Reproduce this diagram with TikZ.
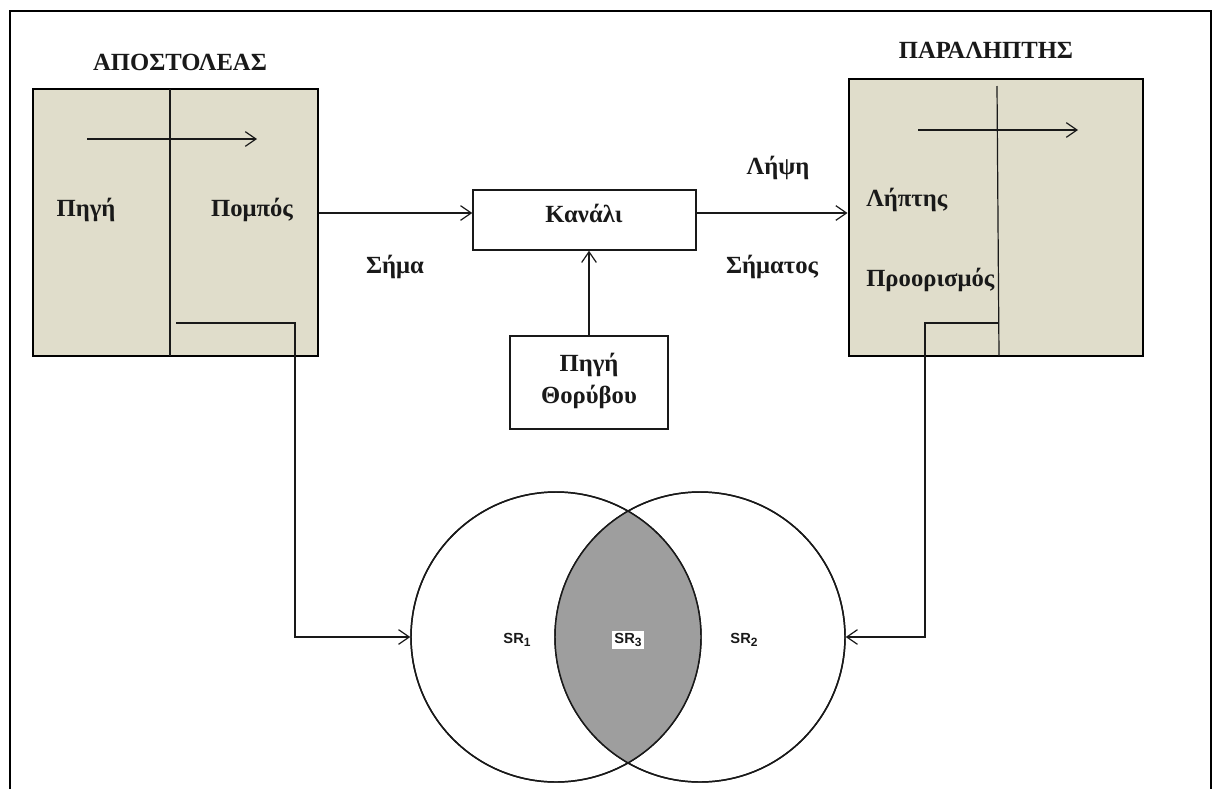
\documentclass[tikz,border=0pt]{standalone}
\usepackage{fontspec}
\setmainfont{Liberation Serif}
\setsansfont{Liberation Sans}
\usetikzlibrary{arrows.meta,calc}
\definecolor{boxfill}{RGB}{224,221,203}
\definecolor{vennfill}{RGB}{158,158,158}
\definecolor{ink}{RGB}{25,25,25}
\newcommand{\srsub}[1]{\raisebox{-2pt}{\fontsize{9}{9}\selectfont #1}}
\begin{document}
\begin{tikzpicture}[x=0.75pt,y=-0.75pt,
  arr/.style={draw=ink,line width=0.9pt,-{Straight Barb[length=8pt,width=11pt,line width=0.9pt]}},
  thin/.style={draw=ink,line width=0.9pt},
  bigbox/.style={draw=black,line width=2.2pt,fill=boxfill,inner sep=0pt},
  smallbox/.style={draw=ink,line width=1.1pt,fill=white,inner sep=0pt},
  lbl/.style={font=\fontsize{18.5}{22}\selectfont\bfseries,text=ink,inner sep=0pt},
  srl/.style={font=\sffamily\fontsize{11}{12}\selectfont\bfseries,text=ink,inner sep=1.5pt},
  venn/.style={circle,draw=ink,line width=1.1pt,minimum size=217.5pt,inner sep=0pt}
]
\useasboundingbox (0,0) rectangle (1220,789);
\fill[white] (0,0) rectangle (1220,789);
% outer frame
\draw[black,line width=1.5pt] (10,789) -- (10,11) -- (1211,11) -- (1211,789);

% boxes
\node[bigbox,minimum width=213.75pt,minimum height=200.25pt] (sender) at (175.5,222.5) {};
\node[bigbox,minimum width=220.5pt,minimum height=207.75pt] (receiver) at (996,217.5) {};
\node[smallbox,minimum width=167.25pt,minimum height=45pt] (kanali) at (584.5,220) {};
\node[lbl] (kanalitxt) at (584,213) {Κανάλι};
\node[smallbox,minimum width=118.5pt,minimum height=69.75pt] (noise) at (589,382.5) {};
\node[lbl] (noise1) at (589,365) {Πηγή};
\node[lbl] (noise2) at (589,397) {Θορύβου};

% headings and labels
\node[lbl] (apost) at (180,62) {ΑΠΟΣΤΟΛΕΑΣ};
\node[lbl] (paral) at (986,50) {ΠΑΡΑΛΗΠΤΗΣ};
\node[lbl] (pigi) at (86,210) {Πηγή};
\node[lbl] (pompos) at (252,210) {Πομπός};
\node[lbl,anchor=west] (liptis) at (866,200) {Λήπτης};
\node[lbl,anchor=west] (proor) at (866,280) {Προορισμός};
\node[lbl] (sima) at (395,267) {Σήμα};
\node[lbl] (lipsi) at (778,168) {Λήψη};
\node[lbl] (simatos) at (772,267) {Σήματος};

% inner lines of sender
\coordinate (sdtop) at (170,89);
\coordinate (sdbot) at (170,356);
\draw[thin] (sdtop) -- (sdbot);
\coordinate (sa1) at (87,139);
\coordinate (sa2) at (257,139);
\draw[arr] (sa1) -- (sa2);

% inner lines of receiver
\coordinate (rdtop) at (997,86);
\coordinate (rdbot) at (999,356);
\draw[thin] (rdtop) -- (rdbot);
\coordinate (ra1) at (918,130);
\coordinate (ra2) at (1078,130);
\draw[arr] (ra1) -- (ra2);

% signal path
\coordinate (k1) at ([yshift=5.25pt]kanali.west);
\coordinate (k2) at ([yshift=5.25pt]kanali.east);
\draw[arr] (sender.east |- k1) -- (k1);
\draw[arr] (k2) -- (k2 -| receiver.west);
\draw[arr] (noise.north) -- (noise.north |- kanali.south);

% venn
\node[venn] (c1) at (556,637) {};
\node[venn] (c2) at (700,637) {};
\begin{scope}
  \clip (556,637) circle[radius=145];
  \fill[vennfill] (700,637) circle[radius=145];
\end{scope}
\draw[ink,line width=1.1pt] (556,637) circle[radius=145];
\draw[ink,line width=1.1pt] (700,637) circle[radius=145];
\node[srl] (sr1) at (517,640) {SR\srsub{1}};
\node[srl,fill=white] (sr3) at (628,640) {SR\srsub{3}};
\node[srl] (sr2) at (744,640) {SR\srsub{2}};

% feedback connectors
\coordinate (sl1) at (176,323);
\coordinate (sl2) at (295,323);
\draw[arr] (sl1) -- (sl2) |- (c1.west);
\coordinate (rl1) at (999,323);
\coordinate (rl2) at (925,323);
\draw[arr] (rl1) -- (rl2) |- (c2.east);
\end{tikzpicture}
\end{document}
